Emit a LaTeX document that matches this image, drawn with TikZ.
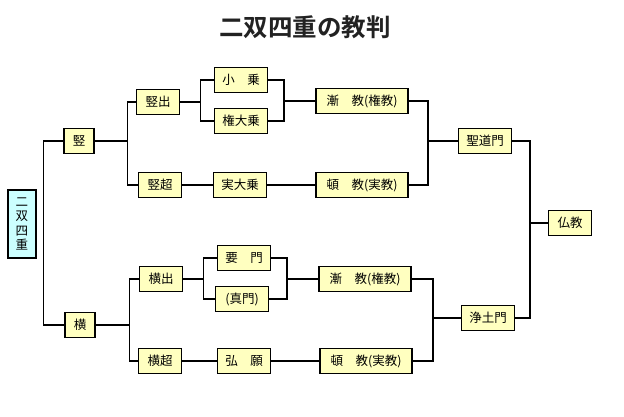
\documentclass[tikz,border=0pt]{standalone}
\usepackage{fontspec}
\newfontfamily\jp{Noto Sans CJK JP}[BoldFont={Noto Sans CJK JP Bold}]
\usetikzlibrary{positioning}
\definecolor{paleyellow}{HTML}{FFFFC0}
\definecolor{palecyan}{HTML}{CCFFFF}
\definecolor{titlegrey}{HTML}{222222}
\tikzset{
  box/.style={rectangle, draw=black, line width=1.1pt, fill=paleyellow,
    minimum height=25pt, inner sep=1pt, font=\jp\fontsize{12.5}{13}\selectfont},
  boxA/.style={box, minimum width=30pt},
  boxB/.style={box, minimum width=43pt},
  boxC/.style={box, minimum width=53pt},
  boxD/.style={box, minimum width=92pt},
  rootbox/.style={box, fill=palecyan, minimum width=28pt, minimum height=68pt,
    align=center, font=\jp\fontsize{12.5}{14.5}\selectfont},
  link/.style={line width=1.1pt, black},
}
\begin{document}
\begin{tikzpicture}[x=1pt, y=-1pt]
\useasboundingbox (0,0) rectangle (624,416);
\node[font=\jp\bfseries\fontsize{24.5}{26}\selectfont, text=titlegrey] (title) at (305,27) {二双四重の教判};

% root and first split
\node[rootbox] (root) at (22,224) {二\\双\\四\\重};
\node[boxA] (tate) at (79,141) {竪};
\node[boxA] (yoko) at (80,325) {横};

% upper half
\node[boxB] (tateshutsu) at (158,102) {竪出};
\node[boxB] (tatecho) at (160,185) {竪超};
\node[boxC] (shojo) at (241,80) {小　乗};
\node[boxC] (gondai) at (241,121) {権大乗};
\node[boxC] (jitsudai) at (240,185) {実大乗};
\node[boxD] (zenkyoA) at (362,101) {漸　教(権教)};
\node[boxD] (tonkyoA) at (362,185) {頓　教(実教)};
\node[boxC] (shodo) at (485,141) {聖道門};

% lower half
\node[boxB] (yokoshutsu) at (161,279) {横出};
\node[boxB] (yokocho) at (160,361) {横超};
\node[boxC] (yomon) at (244,258) {要　門};
\node[boxC] (shinmon) at (242,299) {(真門)};
\node[boxC] (guzei) at (244,361) {弘　願};
\node[boxD] (zenkyoB) at (365,279) {漸　教(権教)};
\node[boxD] (tonkyoB) at (366,361) {頓　教(実教)};
\node[boxC] (jodo) at (488,318) {浄土門};

\node[boxB] (bukkyo) at (570,223) {仏教};

% junctions
\coordinate (jA) at (284,101);
\coordinate (jB) at (428,141);
\coordinate (jC) at (287,279);
\coordinate (jD) at (433,318);
\coordinate (jE) at (530,223);

\draw[link] (tate.west) -- ++(-20,0) |- (yoko.west);

\draw[link] (tate.east) -- ++(33,0) coordinate (sA) |- (tateshutsu.west);
\draw[link] (sA) |- (tatecho.west);
\draw[link] (tateshutsu.east) -- ++(20,0) coordinate (sB) |- (shojo.west);
\draw[link] (sB) |- (gondai.west);
\draw[link] (shojo.east) -| (jA) |- (gondai.east);
\draw[link] (jA) -- (zenkyoA.west);
\draw[link] (tatecho) -- (jitsudai) -- (tonkyoA);
\draw[link] (zenkyoA.east) -| (jB) |- (tonkyoA.east);
\draw[link] (jB) -- (shodo.west);

\draw[link] (yoko.east) -- ++(34,0) coordinate (sC) |- (yokoshutsu.west);
\draw[link] (sC) |- (yokocho.west);
\draw[link] (yokoshutsu.east) -- ++(20,0) coordinate (sD) |- (yomon.west);
\draw[link] (sD) |- (shinmon.west);
\draw[link] (yomon.east) -| (jC) |- (shinmon.east);
\draw[link] (jC) -- (zenkyoB.west);
\draw[link] (yokocho) -- (guzei) -- (tonkyoB);
\draw[link] (zenkyoB.east) -| (jD) |- (tonkyoB.east);
\draw[link] (jD) -- (jodo.west);

\draw[link] (shodo.east) -| (jE) |- (jodo.east);
\draw[link] (jE) -- (bukkyo.west);
\end{tikzpicture}
\end{document}
